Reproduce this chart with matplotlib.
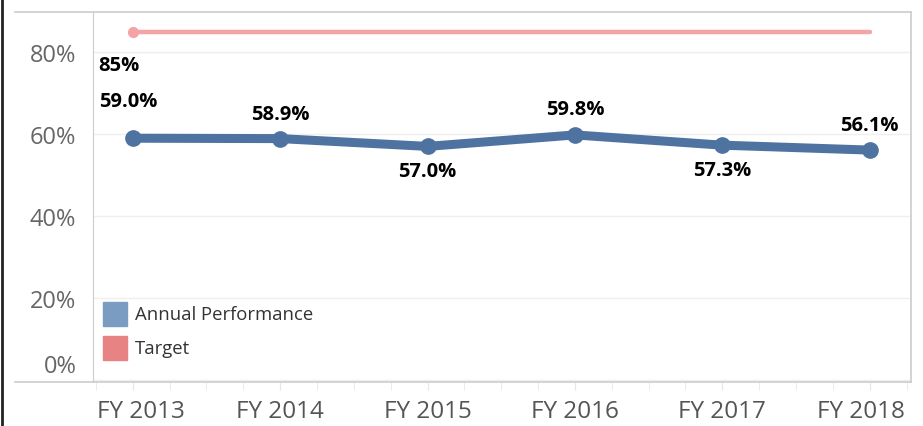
import matplotlib.pyplot as plt
import matplotlib.transforms as mtransforms
from matplotlib.lines import Line2D
from matplotlib.patches import Rectangle
from matplotlib.ticker import FuncFormatter, MultipleLocator

# data
years = ["FY 2013", "FY 2014", "FY 2015", "FY 2016", "FY 2017", "FY 2018"]
performance = [59.0, 58.9, 57.0, 59.8, 57.3, 56.1]
target = [85, 85, 85, 85, 85, 85]
label_offsets = [27, 18, -18, 19, -18, 18]  # points above (+) / below (-) the marker

plt.rcParams["font.family"] = ["Open Sans", "DejaVu Sans"]

blue = "#4e73a0"
pink = "#f4a3a6"

fig = plt.figure(figsize=(9.23, 4.27), dpi=100)
ax = fig.add_axes([93 / 923, 44 / 427, 818 / 923, 370 / 427])

x = list(range(len(years)))
ax.plot(x, target, color=pink, lw=3.2, solid_capstyle="round", zorder=2)
ax.plot(x[0], target[0], "o", color=pink, ms=7, zorder=2)
ax.plot(x, performance, color=blue, lw=6.5, marker="o", ms=11,
        solid_capstyle="round", zorder=3)

# data labels
for xi, v, off in zip(x, performance, label_offsets):
    ax.annotate(f"{v:.1f}%", (xi, v), xytext=(0 if xi else -3, off),
                textcoords="offset points", ha="center", va="center",
                fontsize=14.5, fontweight="bold", color="black")
ax.annotate(f"{target[0]}%", (x[0], target[0]), xytext=(-10, -24),
            textcoords="offset points", ha="center", va="center",
            fontsize=14.5, fontweight="bold", color="black")

ax.set_xlim(-0.27, 5.28)
ax.set_ylim(-0.5, 89.8)
ax.set_xticks(x)
ax.set_xticklabels(years)
ax.xaxis.set_minor_locator(MultipleLocator(0.25))
ax.set_yticks([0, 20, 40, 60, 80])
ax.yaxis.set_major_formatter(FuncFormatter(lambda v, p: f"{v:.0f}%"))
ax.tick_params(axis="y", length=0, labelsize=17, labelcolor="#666666", pad=12)
ax.tick_params(axis="x", which="both", length=6, color="#e6e6e6",
               labelsize=17.5, labelcolor="#555555", pad=6)
ax.grid(axis="y", color="#efefef", lw=1)
ax.set_axisbelow(True)

# Tableau pushes the edge labels inward to stay inside the pane
fig.canvas.draw()
ylabels = ax.get_yticklabels()
ylabels[0].set_transform(ylabels[0].get_transform() +
                         mtransforms.ScaledTranslation(0, 12 / 72, fig.dpi_scale_trans))
xlabels = ax.get_xticklabels()
xlabels[0].set_transform(xlabels[0].get_transform() +
                         mtransforms.ScaledTranslation(6 / 72, 0, fig.dpi_scale_trans))
xlabels[-1].set_transform(xlabels[-1].get_transform() +
                          mtransforms.ScaledTranslation(-6 / 72, 0, fig.dpi_scale_trans))

for side in ["top", "right", "bottom"]:
    ax.spines[side].set_visible(False)
ax.spines["left"].set_color("#cccccc")

# outer frame lines
frame_col = "#cccccc"
fig.add_artist(Line2D([15 / 923, 911 / 923], [1 - 13 / 427] * 2, color=frame_col, lw=1.2))
fig.add_artist(Line2D([15 / 923, 911 / 923], [1 - 383 / 427] * 2, color=frame_col, lw=1.2))
fig.add_artist(Line2D([911 / 923] * 2, [1 - 13 / 427, 1 - 383 / 427], color=frame_col, lw=1.2))
fig.add_artist(Line2D([1.5 / 923] * 2, [0, 1], color="#222222", lw=2))

# legend
legend_items = [("Annual Performance", "#7b9cc2"), ("Target", "#e88383")]
for i, (name, col) in enumerate(legend_items):
    y0 = 1 - (327 + i * 34) / 427
    fig.add_artist(Rectangle((103 / 923, y0), 24 / 923, 24 / 427, color=col))
    fig.text(135 / 923, y0 + 12 / 427, name, fontsize=13.3, color="#333333", va="center")

plt.savefig("out.png", dpi=100)
